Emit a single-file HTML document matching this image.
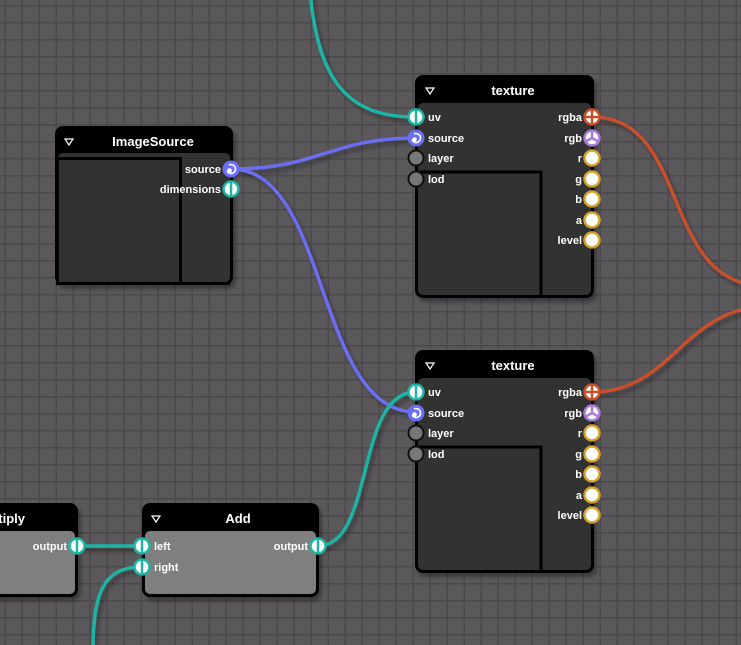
<!DOCTYPE html>
<html><head><meta charset="utf-8"><style>
html,body{margin:0;padding:0;width:741px;height:645px;overflow:hidden;background:#5b585c;}
svg{display:block}
text{font-family:"Liberation Sans",sans-serif;fill:#fff;font-weight:bold;}
</style></head><body>
<svg width="741" height="645" viewBox="0 0 741 645" xmlns="http://www.w3.org/2000/svg">
<defs>
<pattern id="g" x="4.5" y="5" width="17" height="17" patternUnits="userSpaceOnUse">
<rect width="17" height="17" fill="#5b585c"/>
<path d="M0 0.5H17M0.5 0V17" stroke="#4b494c" stroke-width="2" fill="none"/>
</pattern>
<filter id="sh" x="-20%" y="-20%" width="140%" height="140%"><feDropShadow dx="3" dy="4" stdDeviation="2" flood-color="#000" flood-opacity="0.35"/></filter>
<g id="teal"><circle r="7.5" fill="#fff" stroke="#1eb5a5" stroke-width="2.5"/><line x1="0" y1="-7.5" x2="0" y2="7.5" stroke="#1eb5a5" stroke-width="2.5"/></g>
<g id="blue"><circle r="7.5" fill="#6a6ef2" stroke="#6a6ef2" stroke-width="2"/><path d="M-2 -4 A4.5 4.5 0 1 1 -4 2" stroke="#fff" stroke-width="1.6" fill="none"/><circle cx="-1.5" cy="1.5" r="2.3" fill="#fff"/></g>
<g id="org"><circle r="7.5" fill="#fff" stroke="#c8502a" stroke-width="2.5"/><path d="M0 -7.5V7.5M-7.5 0H7.5" stroke="#c8502a" stroke-width="2.5"/></g>
<g id="pur"><circle r="7.5" fill="#fff" stroke="#a77ad6" stroke-width="2.5"/><path d="M0 0V-7.5M0 0L6.5 3.7M0 0L-6.5 3.7" stroke="#a77ad6" stroke-width="2.5"/></g>
<g id="yel"><circle r="7.5" fill="#fff" stroke="#d4a12a" stroke-width="2.5"/></g>
<g id="gry"><circle r="7.5" fill="#777" stroke="#111" stroke-width="2"/></g>
</defs>
<rect width="741" height="645" fill="url(#g)"/>

<g fill="none" stroke-width="3.4" filter="url(#sh)">
<path d="M310 -10 C318 90 355 117 416 117" stroke="#1eb5a5"/>
<path d="M231 169 C320 169 330 138 416 138" stroke="#6a6ef2"/>
<path d="M231 169 C330 169 315 412 416 412" stroke="#6a6ef2"/>
<path d="M592 117 C690 117 660 280 760 286" stroke="#c8502a"/>
<path d="M592 392 C670 392 680 315 760 306" stroke="#c8502a"/>
<path d="M77 546 H142" stroke="#1eb5a5"/>
<path d="M318 546 C375 546 355 392 416 392" stroke="#1eb5a5"/>
<path d="M93 650 C93 590 105 567 142 567" stroke="#1eb5a5"/>
</g>

<g filter="url(#sh)">
<rect x="55" y="126" width="178" height="159" rx="8" fill="#000"/>
<rect x="58" y="153" width="172" height="129" rx="5" fill="#333"/>
</g>
<rect x="57.5" y="158.5" width="123" height="125" fill="#313131" stroke="#000" stroke-width="3"/>
<rect x="58" y="282" width="172" height="3" fill="#000"/>
<path d="M65 139 L73 139 L69 145 Z" fill="none" stroke="#fff" stroke-width="1.2"/>
<text x="153" y="146" font-size="13" text-anchor="middle">ImageSource</text>
<text x="221" y="173" font-size="11" text-anchor="end">source</text>
<text x="221" y="193" font-size="11" text-anchor="end">dimensions</text>
<use href="#blue" x="231" y="169"/><use href="#teal" x="231" y="189"/>

<g id="tex">
<g filter="url(#sh)">
<rect x="415" y="75" width="179" height="223" rx="8" fill="#000"/>
<rect x="418" y="103" width="173" height="192" rx="5" fill="#333"/>
</g>
<path d="M417 172 H541 V297" fill="none" stroke="#000" stroke-width="3"/>
<path d="M426 88 L434 88 L430 94 Z" fill="none" stroke="#fff" stroke-width="1.2"/>
<text x="513" y="95" font-size="13" text-anchor="middle">texture</text>
<g font-size="11">
<text x="428" y="121">uv</text><text x="428" y="142">source</text><text x="428" y="162">layer</text><text x="428" y="183">lod</text>
<text x="582" y="121" text-anchor="end">rgba</text><text x="582" y="142" text-anchor="end">rgb</text>
<text x="582" y="162" text-anchor="end">r</text><text x="582" y="183" text-anchor="end">g</text>
<text x="582" y="203" text-anchor="end">b</text><text x="582" y="224" text-anchor="end">a</text>
<text x="582" y="244" text-anchor="end">level</text>
</g>
<use href="#teal" x="416" y="117"/><use href="#blue" x="416" y="138"/>
<use href="#gry" x="416" y="158"/><use href="#gry" x="416" y="179"/>
<use href="#org" x="592" y="117"/><use href="#pur" x="592" y="138"/>
<use href="#yel" x="592" y="158"/><use href="#yel" x="592" y="179"/>
<use href="#yel" x="592" y="199"/><use href="#yel" x="592" y="220"/>
<use href="#yel" x="592" y="240"/>
</g>
<use href="#tex" x="0" y="275"/>

<g filter="url(#sh)">
<rect x="-20" y="503" width="98" height="94" rx="8" fill="#000"/>
<rect x="-20" y="531" width="95" height="63" rx="5" fill="#7f7f7f"/>
</g>
<text x="25" y="523" font-size="13" text-anchor="end">tiply</text>
<text x="67" y="550" font-size="11" text-anchor="end">output</text>
<use href="#teal" x="77" y="546"/>

<g filter="url(#sh)">
<rect x="142" y="503" width="177" height="94" rx="8" fill="#000"/>
<rect x="145" y="531" width="171" height="63" rx="5" fill="#7f7f7f"/>
</g>
<path d="M152 516 L160 516 L156 522 Z" fill="none" stroke="#fff" stroke-width="1.2"/>
<text x="238" y="523" font-size="13" text-anchor="middle">Add</text>
<text x="154" y="550" font-size="11">left</text>
<text x="154" y="571" font-size="11">right</text>
<text x="308" y="550" font-size="11" text-anchor="end">output</text>
<use href="#teal" x="142" y="546"/><use href="#teal" x="142" y="567"/><use href="#teal" x="318" y="546"/>
</svg>
</body></html>
